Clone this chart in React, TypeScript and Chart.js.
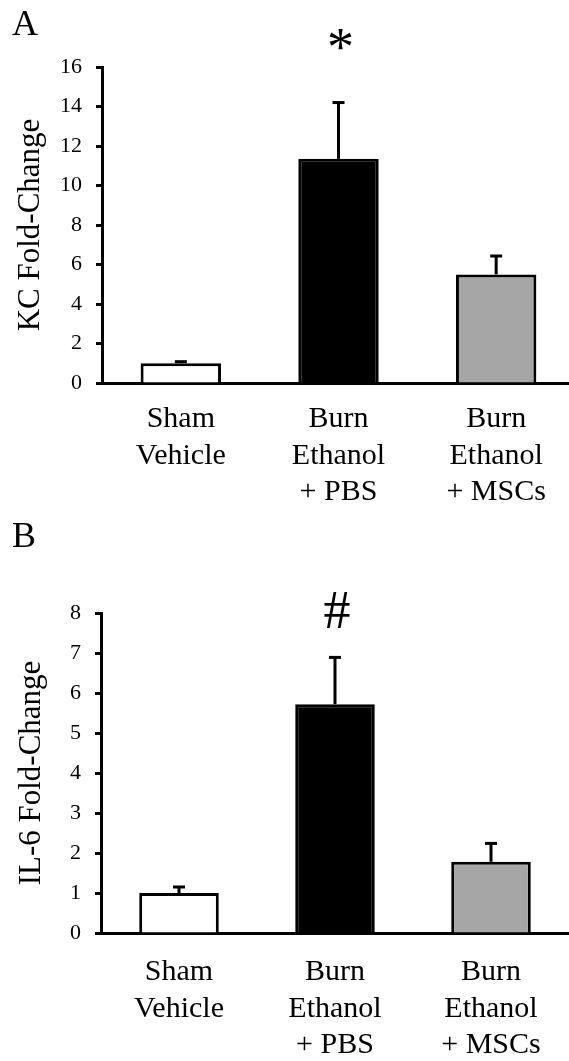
import React, { useEffect, useRef } from "react";
import { Chart, registerables } from "chart.js";

Chart.register(...registerables);

// ---------- data ----------
const categories = [
  ["Sham", "Vehicle"],
  ["Burn", "Ethanol", "+ PBS"],
  ["Burn", "Ethanol", "+ MSCs"],
];
const barColors = ["#ffffff", "#000000", "#a6a6a6"];

const kcMeans = [1.0, 11.35, 5.5];
const kcErrors = [0.08, 2.85, 0.93];
const kcMarkers = ["", "*", ""];
const kcMarkerValue = 16.1;
const kcTicks = { min: 0, max: 16, step: 2 };

const il6Means = [1.0, 5.72, 1.78];
const il6Errors = [0.15, 1.17, 0.46];
const il6Markers = ["", "#", ""];
const il6MarkerValue = 7.63;
const il6Ticks = { min: 0, max: 8, step: 1 };

const FONT = "Liberation Serif";

// error bars, significance markers, panel letter
const annotPlugin = {
  id: "annot",
  afterDatasetsDraw(chart: any, _args: any, opts: any) {
    const ctx = chart.ctx;
    const meta = chart.getDatasetMeta(0);
    const y = chart.scales.y;
    ctx.save();
    ctx.strokeStyle = "#000";
    ctx.fillStyle = "#000";
    ctx.lineWidth = 3;
    meta.data.forEach((bar: any, i: number) => {
      const mean = opts.means[i];
      const err = opts.errors[i];
      const yBar = y.getPixelForValue(mean);
      const yTop = y.getPixelForValue(mean + err);
      ctx.beginPath();
      ctx.moveTo(bar.x, yBar);
      ctx.lineTo(bar.x, yTop);
      ctx.stroke();
      ctx.beginPath();
      ctx.moveTo(bar.x - 6, yTop);
      ctx.lineTo(bar.x + 6, yTop);
      ctx.stroke();
      if (opts.markers[i]) {
        ctx.font = `54px "${FONT}"`;
        ctx.textAlign = "center";
        ctx.textBaseline = "alphabetic";
        ctx.fillText(opts.markers[i], bar.x + 2, y.getPixelForValue(opts.markerValue));
      }
    });
    ctx.font = `36px "${FONT}"`;
    ctx.textAlign = "left";
    ctx.textBaseline = "alphabetic";
    ctx.fillText(opts.letter, 12, opts.letterY);
    ctx.restore();
  },
};

type PanelProps = {
  top: number;
  width: number;
  height: number;
  means: number[];
  errors: number[];
  markers: string[];
  markerValue: number;
  ticks: { min: number; max: number; step: number };
  title: string;
  letter: string;
  letterY: number;
  padTop: number;
  yAxisW: number;
  xAxisH: number;
  xPad: number;
  titlePad: number;
};

function Panel(p: PanelProps) {
  const ref = useRef<HTMLCanvasElement | null>(null);
  useEffect(() => {
    if (!ref.current) return;
    const chart = new Chart(ref.current, {
      type: "bar",
      data: {
        labels: categories as any,
        datasets: [
          {
            data: p.means,
            backgroundColor: barColors,
            borderColor: "#000",
            borderWidth: 3,
            barPercentage: 0.51,
            categoryPercentage: 1,
          },
        ],
      },
      options: {
        responsive: false,
        animation: false,
        layout: { padding: { top: p.padTop, left: 0, right: 0, bottom: 0 } },
        plugins: {
          legend: { display: false },
          tooltip: { enabled: false },
          annot: {
            means: p.means,
            errors: p.errors,
            markers: p.markers,
            markerValue: p.markerValue,
            letter: p.letter,
            letterY: p.letterY,
          },
        } as any,
        scales: {
          x: {
            type: "category",
            offset: true,
            z: 1,
            grid: { display: false, drawTicks: false },
            border: { display: true, color: "#000", width: 3 },
            ticks: {
              color: "#000",
              font: { family: FONT, size: 30, lineHeight: 1.22 },
              padding: p.xPad,
              maxRotation: 0,
              autoSkip: false,
            },
            afterFit: (s: any) => {
              s.height = p.xAxisH;
            },
          },
          y: {
            min: p.ticks.min,
            max: p.ticks.max,
            ticks: {
              stepSize: p.ticks.step,
              color: "#000",
              font: { family: FONT, size: 22 },
              padding: 14,
            },
            grid: {
              drawOnChartArea: false,
              drawTicks: true,
              tickLength: 6,
              tickWidth: 3,
              color: "#000",
              tickColor: "#000",
            },
            border: { display: true, color: "#000", width: 3 },
            title: {
              display: true,
              text: p.title,
              color: "#000",
              font: { family: FONT, size: 31 },
              padding: { top: p.titlePad, bottom: 0 },
            },
            afterFit: (s: any) => {
              s.width = p.yAxisW;
            },
          },
        },
      } as any,
      plugins: [annotPlugin],
    });
    return () => chart.destroy();
  }, []);
  return (
    <canvas
      ref={ref}
      width={p.width}
      height={p.height}
      style={{
        position: "absolute",
        left: 0,
        top: p.top,
        width: p.width,
        height: p.height,
        display: "block",
      }}
    />
  );
}

export default function App() {
  return (
    <div
      style={{
        position: "absolute",
        left: 0,
        top: 0,
        width: 569,
        height: 1061,
        overflow: "hidden",
        background: "#fff",
      }}
    >
      <Panel
        top={0}
        width={575}
        height={515}
        means={kcMeans}
        errors={kcErrors}
        markers={kcMarkers}
        markerValue={kcMarkerValue}
        ticks={kcTicks}
        title="KC Fold-Change"
        letter="A"
        letterY={35}
        padTop={67}
        yAxisW={102}
        xAxisH={132}
        xPad={18}
        titlePad={12}
      />
      <Panel
        top={515}
        width={569}
        height={546}
        means={il6Means}
        errors={il6Errors}
        markers={il6Markers}
        markerValue={il6MarkerValue}
        ticks={il6Ticks}
        title="IL-6 Fold-Change"
        letter="B"
        letterY={32}
        padTop={98}
        yAxisW={101}
        xAxisH={128}
        xPad={21}
        titlePad={13}
      />
    </div>
  );
}
